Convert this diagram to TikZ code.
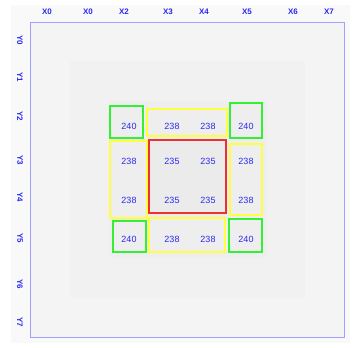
\documentclass[tikz,border=0pt]{standalone}
\usepackage{fontspec}
\setmainfont{Liberation Sans}
\definecolor{lblue}{HTML}{2A2AF0}
\definecolor{frameblue}{HTML}{A0A0FF}
\definecolor{gr}{HTML}{33F033}
\definecolor{ye}{HTML}{FFFF40}
\definecolor{rd}{HTML}{EE3030}
\begin{document}
\begin{tikzpicture}[x=1pt,y=-1pt,
  axlab/.style={font=\fontsize{8}{9}\selectfont\bfseries, text=lblue, inner sep=0pt},
  val/.style={font=\fontsize{9}{10}\selectfont, text=lblue, inner sep=0pt},
  gbox/.style={draw=gr, line width=1.2pt},
  ybox/.style={draw=ye, line width=1.2pt},
  rbox/.style={draw=rd, line width=1.2pt}]
\useasboundingbox (0,0) rectangle (354,348);
\fill[white] (0,0) rectangle (354,348);
\fill[black!2.5] (11,5) rectangle (350,343);
% background cells
\def\xs{{30,70,110,148,188,228,266,305,344}}
\def\ys{{22,61,101,140,180,219,258,298,337}}
\foreach \i in {0,...,7}{
  \foreach \j in {0,...,7}{
    \pgfmathsetmacro{\xa}{\xs[\i]}
    \pgfmathsetmacro{\xb}{\xs[\i+1]}
    \pgfmathsetmacro{\ya}{\ys[\j]}
    \pgfmathsetmacro{\yb}{\ys[\j+1]}
    \pgfmathsetmacro{\d}{max(abs(\i-3.5),abs(\j-3.5))}
    \pgfmathsetmacro{\shade}{\d<1?7.8:(\d<2?6.6:(\d<3?5.3:4.3))}
    \fill[black!\shade] (\xa,\ya) rectangle (\xb,\yb);
  }
}
\draw[frameblue, line width=1pt] (30,22) rectangle (344,337);
% axis labels
\node[axlab] (x0) at (47,12) {X0};
\node[axlab] (x1) at (88,12) {X0};
\node[axlab] (x2) at (124,12) {X2};
\node[axlab] (x3) at (168,12) {X3};
\node[axlab] (x4) at (204,12) {X4};
\node[axlab] (x5) at (247,12) {X5};
\node[axlab] (x6) at (293,12) {X6};
\node[axlab] (x7) at (329,12) {X7};
\node[axlab, rotate=-90] (y0) at (20,40) {Y0};
\node[axlab, rotate=-90] (y1) at (20,77) {Y1};
\node[axlab, rotate=-90] (y2) at (20,116) {Y2};
\node[axlab, rotate=-90] (y3) at (20,160) {Y3};
\node[axlab, rotate=-90] (y4) at (20,197) {Y4};
\node[axlab, rotate=-90] (y5) at (20,238) {Y5};
\node[axlab, rotate=-90] (y6) at (20,284) {Y6};
\node[axlab, rotate=-90] (y7) at (20,322) {Y7};
% boxes
\draw[gbox] (110,106) rectangle (143,138);
\draw[ybox] (147,109) rectangle (227,136);
\draw[gbox] (230,103) rectangle (262,138);
\draw[ybox] (110,141) rectangle (147,218);
\draw[rbox] (149,140) rectangle (226,213);
\draw[ybox] (230,144) rectangle (262,215);
\draw[gbox] (113,221) rectangle (146,252);
\draw[ybox] (149,218) rectangle (225,252);
\draw[gbox] (229,219) rectangle (262,252);
% values
\node[val] (v11) at (129,126) {240};
\node[val] (v12) at (172,126) {238};
\node[val] (v13) at (208,126) {238};
\node[val] (v14) at (246,126) {240};
\node[val] (v21) at (129,161) {238};
\node[val] (v22) at (172,161) {235};
\node[val] (v23) at (208,161) {235};
\node[val] (v24) at (246,161) {238};
\node[val] (v31) at (129,200) {238};
\node[val] (v32) at (172,200) {235};
\node[val] (v33) at (208,200) {235};
\node[val] (v34) at (246,200) {238};
\node[val] (v41) at (129,239) {240};
\node[val] (v42) at (172,239) {238};
\node[val] (v43) at (208,239) {238};
\node[val] (v44) at (246,239) {240};
\end{tikzpicture}
\end{document}
